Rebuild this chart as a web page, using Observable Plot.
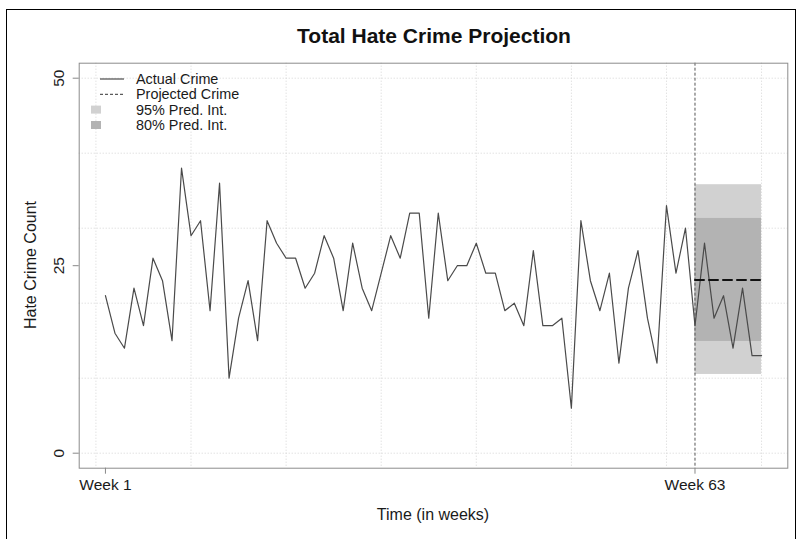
<!DOCTYPE html>
<html>
<head>
<meta charset="utf-8">
<script src="https://cdn.jsdelivr.net/npm/d3@7"></script>
<script src="https://cdn.jsdelivr.net/npm/@observablehq/plot@0.6"></script>
<style>
  html, body { margin: 0; padding: 0; background: #fff; }
  #wrap { position: relative; width: 801px; height: 539px; overflow: hidden; background: #fff;
          font-family: "Liberation Sans", Arial, Helvetica, sans-serif; color: #1a1a1a; }
  #border { position: absolute; left: 6px; top: 9px; width: 790px; height: 560px; border: 1.5px solid #000; box-sizing: border-box; }
  .lbl { position: absolute; white-space: nowrap; line-height: 1; transform: translate(-50%, -50%); }
  #title { left: 434px; top: 35px; font-size: 21px; font-weight: bold; color: #111; }
  #xtitle { left: 433px; top: 515px; font-size: 16px; }
  #ytitle { left: 31px; top: 265px; font-size: 16px; transform: translate(-50%, -50%) rotate(-90deg); }
  #chart svg { position: absolute; left: 0; top: 0; }
</style>
</head>
<body>
<div id="wrap">
  <div id="chart"></div>
  <div id="border"></div>
  <div id="title" class="lbl">Total Hate Crime Projection</div>
  <div id="xtitle" class="lbl">Time (in weeks)</div>
  <div id="ytitle" class="lbl">Hate Crime Count</div>
</div>
<script>
// ---- data ----
const actualCounts = [21,16,14,22,17,26,23,15,38,29,
                      31,19,36,10,18,23,15,31,28,26,
                      26,22,24,29,26,19,28,22,19,24,
                      29,26,32,32,18,32,23,25,25,28,
                      24,24,19,20,17,27,17,17,18,6,
                      31,23,19,24,12,22,27,18,12,33,
                      24,30,17,28,18,21,14,22,13,13];
const forecastWeeks = [63, 70];
const forecastMean = [23.1, 23.1];
const pi95 = [10.5, 35.8];
const pi80 = [14.9, 31.3];
const xTicks = [1, 63];
const xTickLabels = ["Week 1", "Week 63"];
const yTicks = [0, 25, 50];
const gridWeeks = [0, 10, 20, 30, 40, 50, 60, 70];
const gridCounts = [0, 10, 20, 30, 40, 50];
const cutWeek = [63];
const legendLabels = ["Actual Crime", "Projected Crime", "95% Pred. Int.", "80% Pred. Int."];

const actual = actualCounts.map((v, i) => ({week: i + 1, count: v}));
const forecast = forecastWeeks.map((w, i) => ({week: w, mean: forecastMean[i]}));
const bands = [
  {x1: forecastWeeks[0], x2: forecastWeeks[1], lo: pi95[0], hi: pi95[1], fill: "#d1d1d1"},
  {x1: forecastWeeks[0], x2: forecastWeeks[1], lo: pi80[0], hi: pi80[1], fill: "#b3b3b3"}
];

const svg = Plot.plot({
  width: 801,
  height: 539,
  marginLeft: 78.7,
  marginRight: 13.7,
  marginTop: 62.7,
  marginBottom: 71.3,
  x: {domain: [-1.76, 72.76]},
  y: {domain: [-2, 52]},
  style: {fontFamily: "'Liberation Sans', Arial, Helvetica, sans-serif", fontSize: "15.5px", color: "#1a1a1a", background: "transparent", overflow: "visible"},
  marks: [
    Plot.ruleX(gridWeeks, {stroke: "#d4d4d4", strokeDasharray: "1,2", strokeWidth: 1}),
    Plot.ruleY(gridCounts, {stroke: "#d4d4d4", strokeDasharray: "1,2", strokeWidth: 1}),
    Plot.rect(bands, {x1: "x1", x2: "x2", y1: "lo", y2: "hi", fill: "fill"}),
    Plot.ruleX(cutWeek, {stroke: "#555", strokeDasharray: "3,2", strokeWidth: 1}),
    Plot.line(actual, {x: "week", y: "count", stroke: "#4a4a4a", strokeWidth: 1.2}),
    Plot.line(forecast, {x: "week", y: "mean", stroke: "#111", strokeWidth: 2, strokeDasharray: "9,5"}),
    Plot.frame({stroke: "#8c8c8c", strokeWidth: 1}),
    Plot.axisX(xTicks, {tickFormat: (d) => xTickLabels[xTicks.indexOf(d)], tickSize: 6, tickPadding: 5, stroke: "#888", fill: "#1a1a1a", label: null}),
    Plot.axisY(yTicks, {tickSize: 6, tickPadding: 9, tickRotate: -90, stroke: "#888", fill: "#1a1a1a", label: null})
  ]
});
document.getElementById("chart").appendChild(svg);

// legend (inside panel, top-left)
const lg = d3.select(svg).append("g")
  .attr("font-family", "'Liberation Sans', Arial, Helvetica, sans-serif")
  .attr("font-size", "14.4px").attr("fill", "#1a1a1a")
  .attr("text-anchor", "start");
const rowsY = [79, 94.3, 109.6, 125];
legendLabels.forEach((t, i) => {
  const y = rowsY[i];
  if (i === 0) lg.append("line").attr("x1", 100).attr("x2", 124).attr("y1", y).attr("y2", y).attr("stroke", "#4a4a4a").attr("stroke-width", 1.2);
  if (i === 1) lg.append("line").attr("x1", 100).attr("x2", 124).attr("y1", y).attr("y2", y).attr("stroke", "#333").attr("stroke-width", 1).attr("stroke-dasharray", "3,2");
  if (i >= 2) lg.append("rect").attr("x", 91).attr("y", y - 4).attr("width", 10).attr("height", 8).attr("fill", bands[i - 2].fill);
  lg.append("text").attr("x", 136).attr("y", y).attr("dy", "0.35em").attr("text-anchor", "start").text(t);
});
</script>
</body>
</html>
